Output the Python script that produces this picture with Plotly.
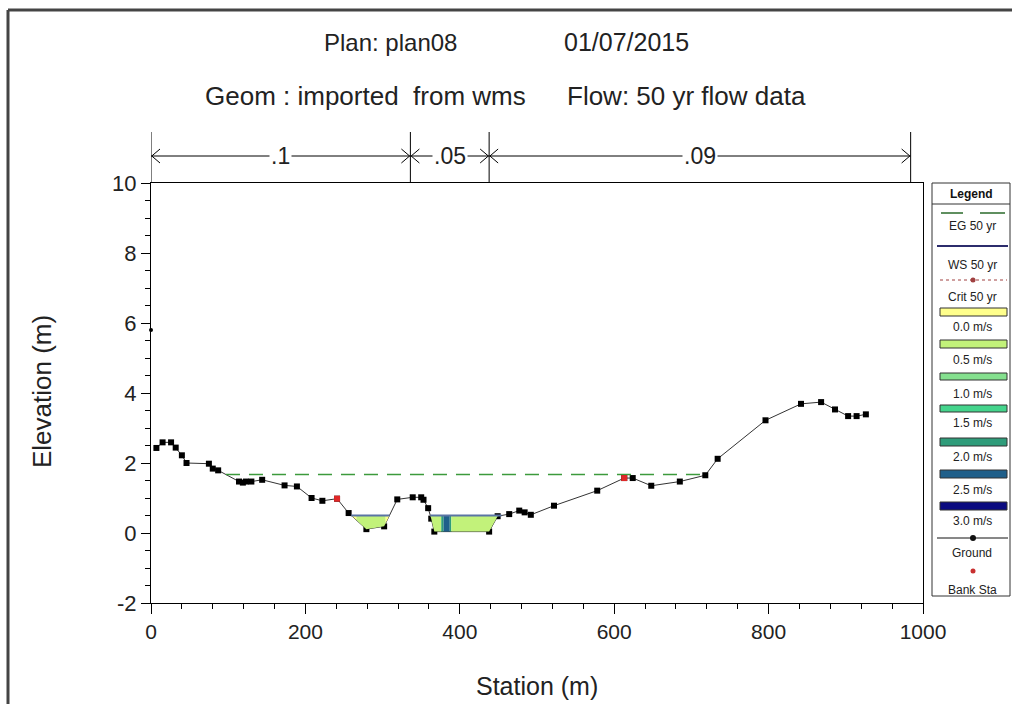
import numpy as np
import plotly.graph_objects as go

# ---------------- data ----------------
ground_station = [7, 15, 26, 32, 40, 46, 75, 80, 87, 114, 119, 123, 130, 144, 173, 189, 208, 222, 241,
                  256, 279, 302, 319, 339, 350, 353, 359, 363, 367, 438, 449, 464, 477, 484, 492, 522,
                  578, 613, 624, 648, 685, 718, 734, 796, 842, 868, 886, 903, 914, 926]
ground_elev = [2.43, 2.59, 2.59, 2.44, 2.22, 2.00, 1.98, 1.84, 1.79, 1.47, 1.44, 1.47, 1.47, 1.52, 1.36, 1.33, 1.00, 0.92, 0.98,
               0.57, 0.11, 0.19, 0.96, 1.02, 1.02, 0.95, 0.71, 0.41, 0.04, 0.04, 0.48, 0.54, 0.64, 0.59, 0.52, 0.78,
               1.21, 1.57, 1.57, 1.35, 1.47, 1.65, 2.12, 3.22, 3.69, 3.74, 3.53, 3.34, 3.34, 3.39]
stray_station = [0]
stray_elev = [5.8]
bank_station = [241, 613]
bank_elev = [0.98, 1.57]
eg_elev = 1.67
ws_elev = 0.50

slice_start = [255, 266, 304, 358, 376, 379, 387, 389]
slice_end = [266, 304, 312, 376, 379, 387, 389, 462]
slice_vel = [0.3, 0.6, 0.3, 0.7, 2.2, 2.7, 2.2, 0.7]

vel_labels = ["0.0 m/s", "0.5 m/s", "1.0 m/s", "1.5 m/s", "2.0 m/s", "2.5 m/s", "3.0 m/s"]
vel_colors = ["#ffff8c", "#c2f27a", "#84e08e", "#44d48c", "#2f9c7a", "#1f5f8a", "#0b0b80"]

n_break_station = [0, 336, 438, 984]
n_value_labels = [".1", ".05", ".09"]

x_ticks = [0, 200, 400, 600, 800, 1000]
y_ticks = [-2, 0, 2, 4, 6, 8, 10]
y_tick_text = ["-2", "0", "2", "4", "6", "8", "10"]

title_texts = ["Plan: plan08", "01/07/2015", "Geom : imported  from wms", "Flow: 50 yr flow data"]
legend_labels = ["EG 50 yr", "WS 50 yr", "Crit 50 yr"] + vel_labels + ["Ground", "Bank Sta"]

# ---------------- geometry helpers ----------------
W, H = 1012, 704
L, R, T, B = 151, 923, 183, 603
FONT = "Liberation Sans, Arial, sans-serif"


def px(x, y):
    return (x - L) / (R - L), (B - y) / (B - T)


gs = np.array(ground_station, float)
ge = np.array(ground_elev, float)


def crossings(level):
    out = []
    for i in range(len(gs) - 1):
        e0, e1 = ge[i], ge[i + 1]
        if (e0 - level) * (e1 - level) < 0:
            out.append(gs[i] + (e0 - level) / (e0 - e1) * (gs[i + 1] - gs[i]))
    return out


def wet_segments(level):
    segs, start = [], None
    for i in range(len(gs) - 1):
        e0, e1 = ge[i], ge[i + 1]
        s = gs[i] + (e0 - level) / (e0 - e1) * (gs[i + 1] - gs[i]) if e0 != e1 else gs[i]
        if e0 >= level and e1 < level:
            start = s
        elif e0 < level and e1 >= level and start is not None:
            segs.append((start, s))
            start = None
    return segs


def vel_color(v):
    return vel_colors[min(int(v / 0.5), len(vel_colors) - 1)]


fig = go.Figure()

# ground line
fig.add_trace(go.Scatter(x=ground_station, y=ground_elev, mode="lines+markers",
                         line=dict(color="#333333", width=1),
                         marker=dict(color="black", size=6, symbol="square"),
                         showlegend=False, hoverinfo="skip"))
fig.add_trace(go.Scatter(x=stray_station, y=stray_elev, mode="markers",
                         marker=dict(color="black", size=4), showlegend=False, cliponaxis=False))

# velocity fills
ws_cross = crossings(ws_elev)
for a, b, v in zip(slice_start, slice_end, slice_vel):
    pts = {a, b}
    pts.update([s for s in ground_station if a < s < b])
    pts.update([c for c in ws_cross if a < c < b])
    xs = np.array(sorted(pts))
    bot = np.minimum(np.interp(xs, gs, ge), ws_elev)
    fx = list(xs) + list(xs[::-1])
    fy = list(bot) + [ws_elev] * len(xs)
    fig.add_trace(go.Scatter(x=fx, y=fy, fill="toself", mode="lines",
                             line=dict(width=0), fillcolor=vel_color(v),
                             showlegend=False, hoverinfo="skip"))

# water surface
for s0, s1 in wet_segments(ws_elev):
    fig.add_trace(go.Scatter(x=[s0, s1], y=[ws_elev, ws_elev], mode="lines",
                             line=dict(color="#5a74a4", width=2), showlegend=False))

# energy grade
for s0, s1 in wet_segments(eg_elev):
    fig.add_trace(go.Scatter(x=[s0, s1], y=[eg_elev, eg_elev], mode="lines",
                             line=dict(color="#3c9a3c", width=1.5, dash="14px,9px"), showlegend=False))

# bank stations
fig.add_trace(go.Scatter(x=bank_station, y=bank_elev, mode="markers",
                         marker=dict(color="#e02828", size=6, symbol="square"), showlegend=False))

shapes = []
annotations = []


def note(x, y, text, size, color="#222", **kw):
    xp, yp = px(x, y)
    annotations.append(dict(x=xp, y=yp, xref="paper", yref="paper", text=text, showarrow=False,
                            xanchor="center", yanchor="middle",
                            font=dict(family=FONT, size=size, color=color), **kw))


# ------------- Manning's n bar -------------
y_top = px(0, 132)[1]
y_arr = px(0, 156)[1]
chev_dx = 9 / (R - L) * 1000
chev_dy = 7 / (B - T)
for s in n_break_station:
    shapes.append(dict(type="line", xref="x", yref="paper", x0=s, x1=s, y0=1.0, y1=y_top,
                       line=dict(color="black", width=1)))
for i, lab in enumerate(n_value_labels):
    a, b = n_break_station[i], n_break_station[i + 1]
    shapes.append(dict(type="line", xref="x", yref="paper", x0=a, x1=b, y0=y_arr, y1=y_arr,
                       line=dict(color="black", width=1)))
    shapes.append(dict(type="path", xref="x", yref="paper",
                       path=f"M {a + chev_dx},{y_arr + chev_dy} L {a + 1},{y_arr} L {a + chev_dx},{y_arr - chev_dy}",
                       line=dict(color="black", width=1)))
    shapes.append(dict(type="path", xref="x", yref="paper",
                       path=f"M {b - chev_dx},{y_arr + chev_dy} L {b - 1},{y_arr} L {b - chev_dx},{y_arr - chev_dy}",
                       line=dict(color="black", width=1)))
    annotations.append(dict(x=(a + b) / 2, y=y_arr, xref="x", yref="paper", text=lab, showarrow=False,
                            xanchor="center", yanchor="middle",
                            bgcolor="white", borderpad=1,
                            font=dict(family=FONT, size=23, color="#222")))

# ------------- titles -------------
title_pos = [(390, 42), (626, 42), (365, 96), (686, 96)]
title_size = [24, 25, 26, 26]
for t, (x, y), sz in zip(title_texts, title_pos, title_size):
    note(x, y, t.replace("  ", "&nbsp; "), sz)

# axis titles
note(42, 392, "Elevation (m)", 26, textangle=-90)
note(537, 686, "Station (m)", 25)

# ------------- outer frame -------------
x0, y0 = px(8, 10)
x1, y1 = px(1015, 710)
shapes.append(dict(type="line", xref="paper", yref="paper", x0=x0, x1=x0, y0=y0, y1=y1,
                   line=dict(color="#444", width=3)))
shapes.append(dict(type="line", xref="paper", yref="paper", x0=x0, x1=x1, y0=y0, y1=y0,
                   line=dict(color="#444", width=3)))

# ------------- custom legend -------------
lx0, ly0 = px(932, 183)
lx1, ly1 = px(1010, 596)
shapes.append(dict(type="rect", xref="paper", yref="paper", x0=lx0, x1=lx1, y0=ly1, y1=ly0,
                   line=dict(color="#333", width=1), fillcolor="white", layer="below"))
a_, sy = px(932, 204)
b_, _ = px(1010, 204)
shapes.append(dict(type="line", xref="paper", yref="paper", x0=a_, x1=b_, y0=sy, y1=sy,
                   line=dict(color="#333", width=1)))
note(971, 194, "<b>Legend</b>", 12, "#111")


def hline(xa, xb, y, color, width, dash="solid"):
    p0 = px(xa, y)
    p1 = px(xb, y)
    shapes.append(dict(type="line", xref="paper", yref="paper", x0=p0[0], x1=p1[0], y0=p0[1], y1=p1[1],
                       line=dict(color=color, width=width, dash=dash)))


hline(941, 963, 213, "#2a6a2a", 1.5)
hline(980, 1005, 213, "#2a6a2a", 1.5)
hline(937, 1008, 246, "#2c2c6c", 2)
hline(940, 1007, 280, "#a04040", 1, "dot")
hline(937, 1008, 538, "#111", 1)

label_y = [226, 265, 297, 327, 360, 394, 423, 457, 490, 521, 553, 590]
rect_y = [(308, 316), (340, 348), (373, 380), (405, 412), (438, 446), (470, 478), (502, 510)]
for (ya, yb), col in zip(rect_y, vel_colors):
    p0 = px(940, ya)
    p1 = px(1007, yb)
    shapes.append(dict(type="rect", xref="paper", yref="paper", x0=p0[0], x1=p1[0], y0=p1[1], y1=p0[1],
                       line=dict(color="#333", width=1), fillcolor=col))
for lab, y in zip(legend_labels, label_y):
    note(972, y, lab, 12)

for (x, y, col, sz) in [(973, 280, "#a04040", 5), (973, 538, "#111", 6), (973, 571, "#c83030", 5)]:
    xp, yp = px(x, y)
    shapes.append(dict(type="circle", xref="paper", yref="paper",
                       x0=xp - sz / 2 / (R - L), x1=xp + sz / 2 / (R - L),
                       y0=yp - sz / 2 / (B - T), y1=yp + sz / 2 / (B - T),
                       fillcolor=col, line=dict(color=col, width=0)))

fig.update_layout(
    width=W, height=H,
    margin=dict(l=L, r=W - R, t=T, b=H - B, autoexpand=False),
    paper_bgcolor="white", plot_bgcolor="white",
    showlegend=False,
    shapes=shapes, annotations=annotations,
    xaxis=dict(range=[0, 1000], tickvals=x_ticks, ticks="outside", ticklen=10, tickcolor="black",
               showline=True, linecolor="black", linewidth=1, mirror=True, showgrid=False, zeroline=False,
               minor=dict(ticks="outside", ticklen=5, dtick=40, tick0=0, tickcolor="black", showgrid=False),
               tickfont=dict(family=FONT, size=21, color="#222")),
    yaxis=dict(range=[-2, 10], tickvals=y_ticks, ticktext=y_tick_text, ticks="outside", ticklen=9,
               tickcolor="black",
               showline=True, linecolor="black", linewidth=1, mirror=True, showgrid=False, zeroline=False,
               minor=dict(ticks="outside", ticklen=5, dtick=0.5, tick0=0, tickcolor="black", showgrid=False),
               tickfont=dict(family=FONT, size=22, color="#222")),
)

fig.write_html("out.html", config={"displayModeBar": False},
               post_script="document.body.style.margin='0';document.body.style.overflow='hidden';")
